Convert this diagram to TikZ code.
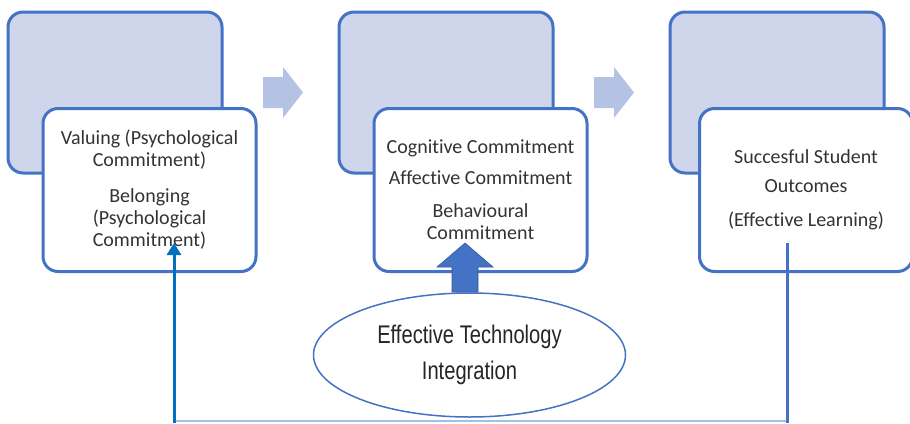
\documentclass[tikz,border=0pt]{standalone}
\usepackage{fontspec}
\setmainfont[Ligatures=NoCommon]{Carlito}
\newfontfamily\narrowfont[FakeStretch=0.79]{Liberation Sans}
\usetikzlibrary{shapes.geometric,arrows.meta}
\definecolor{bord}{HTML}{4472C4}
\definecolor{backfill}{HTML}{CFD5EA}
\definecolor{chev}{HTML}{B4C2E4}
\definecolor{txt}{HTML}{333333}
\definecolor{cyanblue}{HTML}{0070C0}
\definecolor{lightline}{HTML}{9DC3E6}
\definecolor{bigarrow}{HTML}{4472C4}
\tikzset{
  backbox/.style={draw=bord, fill=backfill, line width=3pt, rounded corners=15pt,
    minimum width=214pt, minimum height=161pt, inner sep=0pt},
  frontbox/.style={draw=bord, fill=white, line width=3pt, rounded corners=15pt,
    minimum width=213pt, minimum height=163pt, inner sep=0pt, align=center,
    text=txt, font=\fontsize{20}{22}\selectfont},
  chevron/.style={fill=chev, draw=none},
}
\begin{document}
\begin{tikzpicture}[x=1pt,y=-1pt]
\useasboundingbox (0,0) rectangle (910,423);
% back boxes
\node[backbox] (b1) at (115,92.5) {};
\node[backbox] (b2) at (446,92.5) {};
\node[backbox] (b3) at (777,92.5) {};
% front boxes
\node[frontbox] (f1) at (149.5,190) {Valuing (Psychological\\Commitment)\\[14pt]Belonging\\(Psychological\\Commitment)};
\node[frontbox] (f2) at (480.5,190) {Cognitive Commitment\\[9pt]Affective Commitment\\[11pt]Behavioural\\Commitment};
\node[frontbox] (f3) at (806,190) {Succesful Student\\[7pt]Outcomes\\[12pt](Effective Learning)};
% chevron arrows
\fill[chevron] (263,77) -- (283,77) -- (283,67) -- (303,92.5) -- (283,118) -- (283,108) -- (263,108) -- cycle;
\fill[chevron] (594,77) -- (614,77) -- (614,67) -- (634,92.5) -- (614,118) -- (614,108) -- (594,108) -- cycle;
% ellipse
\node[ellipse, draw=bord, line width=1.5pt, fill=white, minimum width=312pt, minimum height=124pt,
  inner sep=0pt, align=center, text=black!85, font=\narrowfont\fontsize{25.5}{36}\selectfont]
  (e) at (469.5,355) {Effective Technology\\Integration};
% block arrow from ellipse to box 2
\coordinate (atip) at (465,243);
\filldraw[fill=bigarrow, draw=bord!80!black, line width=0.6pt]
  (452,292) -- (452,267) -- (437,267) -- (atip) -- (493,267) -- (478,267) -- (478,292) -- cycle;
% feedback loop
\coordinate (lb) at (174,421);
\coordinate (rb) at (787,421);
\coordinate (lt) at (174,243);
\coordinate (rt) at (787,243);
\draw[lightline, line width=1.5pt] (lb) -- (rb);
\draw[bord, line width=3pt] (rt) -- (787,423);
\draw[cyanblue, line width=3pt, -{Triangle[length=12pt,width=14pt]}] (174,423) -- (lt);
\end{tikzpicture}
\end{document}
